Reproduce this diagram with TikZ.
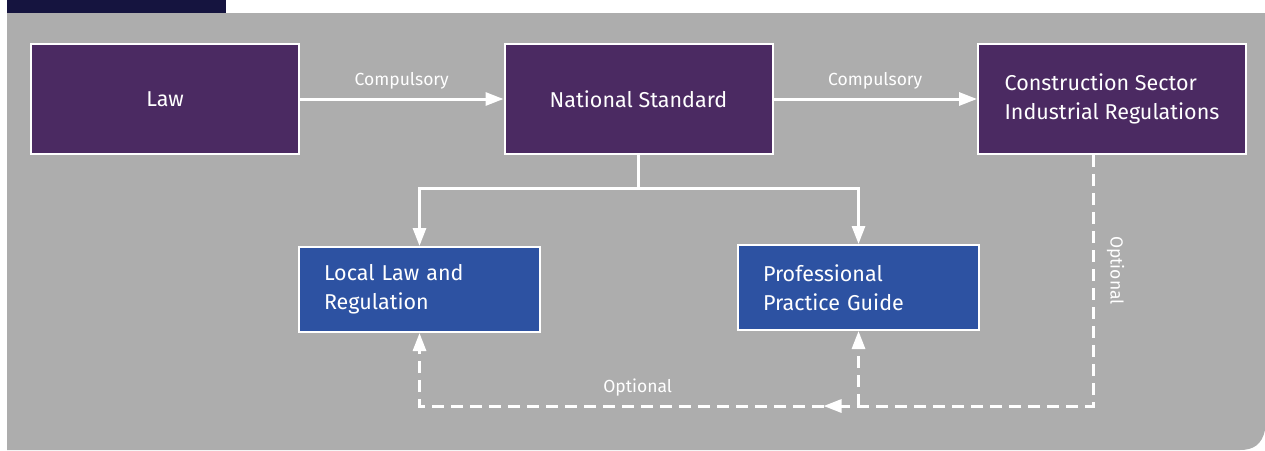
\documentclass[tikz,border=0pt]{standalone}
\usepackage{fontspec}
\setmainfont{Fira Sans}
\usetikzlibrary{arrows.meta}

\definecolor{panelgray}{HTML}{ADADAD}
\definecolor{tabnavy}{HTML}{15143F}
\definecolor{lawpurple}{HTML}{4B2A62}
\definecolor{localblue}{HTML}{2D52A2}

\begin{document}
\begin{tikzpicture}[x=1pt, y=-1pt, node distance=473.5pt,
		law/.style={draw=white, line width=2pt, fill=lawpurple, text=white,
				minimum width=268pt, minimum height=110pt, align=left,
				font=\fontsize{21.5}{29}\selectfont},
		guide/.style={draw=white, line width=2pt, fill=localblue, text=white,
				text width=191pt, inner xsep=25pt, minimum height=85pt, align=left,
				font=\fontsize{21.5}{29}\selectfont},
		link/.style={white, line width=3pt},
		tipped/.style={-{Triangle[length=18pt, width=13pt]}},
		opt/.style={link, dash pattern=on 12pt off 7pt},
		lbl/.style={text=white, font=\fontsize{17.5}{20}\selectfont, above=5pt}]
	\useasboundingbox (0,0) rectangle (1265,450);
	\fill[panelgray] (7,13) -- (1265,13) -- (1265,430) .. controls (1262,444)
		and (1254,450) .. (1240,450) -- (7,450) -- cycle;
	\fill[tabnavy] (7,0) rectangle (226,13);

	\node[law] (law) at (165,99) {Law};
	\node[law, right of=law] (nat) {National Standard};
	\node[law, right of=nat] (cons) {Construction Sector\\Industrial Regulations};
	\node[guide] (local) at (419.5,289.5) {Local Law and\\Regulation};
	\node[guide] (prac) at (858.5,287.5) {Professional\\Practice Guide};

	\draw[link, tipped] (law) -- node[lbl] {Compulsory} (nat);
	\draw[link, tipped] (nat) -- node[lbl] {Compulsory} (cons);

	\draw[link] (nat.south) -- ++(0,33) coordinate (split);
	\draw[link, tipped] (split) -| (local.north);
	\draw[link, tipped] (split) -| (prac.north);

	\coordinate (base) at (0,406);
	\coordinate (meet) at ([xshift=-35pt]prac.south |- base);
	\draw[opt, tipped] ([xshift=-19pt]cons.south) |- node[lbl, pos=0.23,
		sloped, above=4pt] {Optional} (meet);
	\draw[opt, tipped] (meet) -- node[lbl, pos=0.46] {Optional}
		(local.south |- base) -- (local.south);
	\draw[opt, tipped] (prac.south |- base) -- (prac.south);
\end{tikzpicture}
\end{document}
